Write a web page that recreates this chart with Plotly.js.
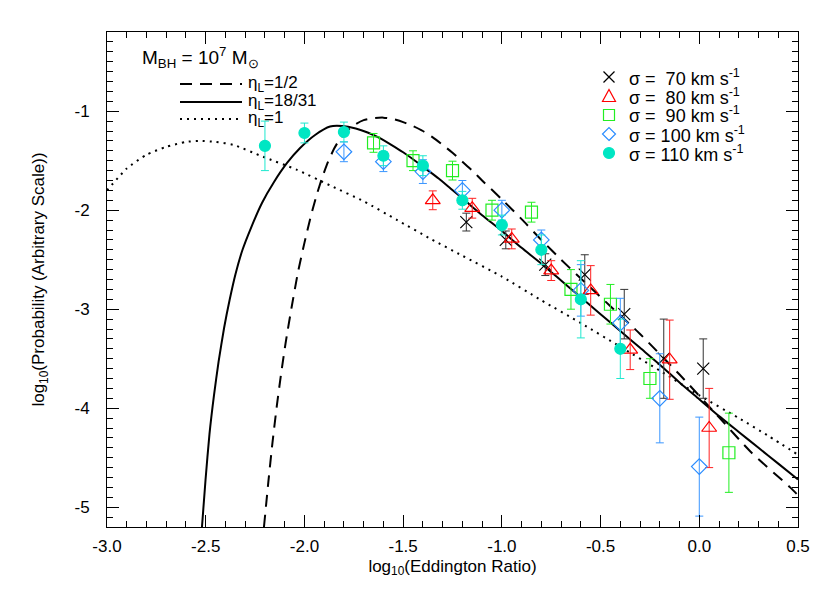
<!DOCTYPE html>
<html><head><meta charset="utf-8">
<script src="https://cdn.plot.ly/plotly-3.0.1.min.js"></script>
<style>html,body{margin:0;padding:0;background:#fff}#plot{width:830px;height:593px}</style>
</head><body><div id="plot"></div>
<script>
// ---- tick labels ----
const xTickVals = [-3.0, -2.5, -2.0, -1.5, -1.0, -0.5, 0.0, 0.5];
const xTickText = ['-3.0', '-2.5', '-2.0', '-1.5', '-1.0', '-0.5', '0.0', '0.5'];
const yTickVals = [-5, -4, -3, -2, -1];
const yTickText = ['-5', '-4', '-3', '-2', '-1'];

// ---- model curves ----
const halfX = [-2.205, -2.183, -2.162, -2.140, -2.118, -2.096, -2.064, -2.032, -2.00, -1.97, -1.94, -1.91, -1.88, -1.85, -1.82, -1.78, -1.74, -1.70, -1.65, -1.60, -1.55, -1.50, -1.45, -1.40, -1.35, -1.30, -1.25, -1.20, -1.15, -1.10, -1.00, -0.90, -0.80, -0.70, -0.60, -0.45, -0.30, -0.10, 0.09, 0.26, 0.46, 0.50];
const halfY = [-5.20, -4.75, -4.35, -3.98, -3.65, -3.35, -2.97, -2.62, -2.33, -2.08, -1.86, -1.67, -1.51, -1.38, -1.28, -1.19, -1.13, -1.09, -1.07, -1.065, -1.08, -1.11, -1.15, -1.20, -1.265, -1.34, -1.42, -1.51, -1.60, -1.70, -1.89, -2.09, -2.30, -2.50, -2.69, -2.97, -3.25, -3.66, -4.07, -4.44, -4.80, -4.88];

const mid1831X = [-2.519, -2.501, -2.481, -2.458, -2.435, -2.407, -2.379, -2.349, -2.314, -2.271, -2.215, -2.154, -2.088, -2.022, -1.946, -1.870, -1.81, -1.74, -1.68, -1.62, -1.56, -1.50, -1.44, -1.38, -1.32, -1.26, -1.20, -1.10, -1.00, -0.90, -0.80, -0.70, -0.60, -0.50, -0.40, -0.30, -0.20, -0.10, 0.00, 0.10, 0.20, 0.30, 0.40, 0.50];
const mid1831Y = [-5.20, -4.725, -4.261, -3.867, -3.533, -3.190, -2.907, -2.644, -2.402, -2.180, -1.927, -1.715, -1.523, -1.372, -1.240, -1.155, -1.15, -1.175, -1.215, -1.27, -1.34, -1.415, -1.50, -1.59, -1.68, -1.78, -1.88, -2.05, -2.21, -2.38, -2.54, -2.71, -2.88, -3.05, -3.22, -3.39, -3.56, -3.74, -3.91, -4.08, -4.24, -4.40, -4.56, -4.72];

const oneX = [-3.00, -2.90, -2.80, -2.70, -2.60, -2.53, -2.45, -2.36, -2.21, -2.04, -1.87, -1.70, -1.53, -1.36, -1.20, -1.00, -0.80, -0.60, -0.40, -0.20, 0.00, 0.20, 0.35, 0.50];
const oneY = [-1.80, -1.58, -1.44, -1.36, -1.31, -1.30, -1.31, -1.34, -1.46, -1.59, -1.75, -1.91, -2.10, -2.29, -2.46, -2.67, -2.91, -3.14, -3.38, -3.62, -3.87, -4.10, -4.28, -4.47];

// ---- data points ----
const s70X = [-1.18, -0.98, -0.78, -0.58, -0.38, -0.18, 0.02];
const s70Y = [-2.12, -2.30, -2.55, -2.65, -3.05, -3.50, -3.60];
const s70E = [0.09, 0.09, 0.11, 0.20, 0.25, 0.40, 0.30];

const s80X = [-1.35, -1.15, -0.95, -0.75, -0.55, -0.35, -0.15, 0.05];
const s80Y = [-1.90, -1.98, -2.29, -2.61, -2.81, -3.41, -3.51, -4.20];
const s80E = [0.095, 0.10, 0.10, 0.10, 0.25, 0.20, 0.40, 0.40];

const s90X = [-1.65, -1.45, -1.25, -1.05, -0.85, -0.65, -0.45, -0.25, 0.15];
const s90Y = [-1.32, -1.50, -1.60, -2.00, -2.02, -2.80, -2.95, -3.70, -4.45];
const s90E = [0.095, 0.10, 0.095, 0.10, 0.10, 0.20, 0.20, 0.20, 0.40];

const s100X = [-1.8, -1.6, -1.4, -1.2, -1.0, -0.8, -0.6, -0.4, -0.2, 0.0];
const s100Y = [-1.41, -1.51, -1.61, -1.80, -2.00, -2.30, -2.81, -3.14, -3.90, -4.59];
const s100E = [0.10, 0.10, 0.12, 0.10, 0.10, 0.10, 0.26, 0.25, 0.45, 0.50];

const s110X = [-2.2, -2.0, -1.8, -1.6, -1.4, -1.2, -1.0, -0.8, -0.6, -0.4];
const s110Y = [-1.35, -1.22, -1.21, -1.45, -1.55, -1.90, -2.15, -2.40, -2.90, -3.40];
const s110E = [0.25, 0.10, 0.10, 0.10, 0.10, 0.09, 0.10, 0.15, 0.39, 0.30];

// ---- legend texts ----
const seriesNames = ['σ = \u00a070 km s<sup>-1</sup>', 'σ = \u00a080 km s<sup>-1</sup>', 'σ = \u00a090 km s<sup>-1</sup>', 'σ = 100 km s<sup>-1</sup>', 'σ = 110 km s<sup>-1</sup>'];
const curveNames = ['η<sub>L</sub>=1/2', 'η<sub>L</sub>=18/31', 'η<sub>L</sub>=1'];
const massLabel = 'M<sub>BH</sub> = 10<sup>7</sup> M<sub>⊙</sub>';

const colors = ['#000000', '#ff0000', '#22ee22', '#2a8cff', '#00e6c3'];
const barColors = ['#333333', '#ff2020', '#22ee22', '#3a96ff', '#1ee8cf'];

function curve(x, y, dash, w, name) {
  return {x: x, y: y, type: 'scatter', mode: 'lines', name: name, showlegend: false, hoverinfo: 'skip',
    line: {color: '#000', width: w, dash: dash, shape: 'spline', smoothing: 0.6}};
}
function pts(x, y, e, name, symbol, color, barColor, size) {
  return {x: x, y: y, type: 'scatter', mode: 'markers', name: name, showlegend: false,
    error_y: {type: 'data', array: e, visible: true, color: barColor, thickness: 1, width: 4},
    marker: {symbol: symbol, size: size, color: color, line: {color: color, width: 1.2}}};
}

const data = [
  curve(halfX, halfY, '12px,8px', 2, curveNames[0]),
  curve(mid1831X, mid1831Y, 'solid', 2, curveNames[1]),
  curve(oneX, oneY, '2px,5px', 2, curveNames[2]),
  pts(s70X, s70Y, s70E, seriesNames[0], 'x-thin-open', colors[0], barColors[0], 12),
  pts(s80X, s80Y, s80E, seriesNames[1], 'triangle-up-open', colors[1], barColors[1], 13),
  pts(s90X, s90Y, s90E, seriesNames[2], 'square-open', colors[2], barColors[2], 12),
  pts(s100X, s100Y, s100E, seriesNames[3], 'diamond-open', colors[3], barColors[3], 12),
  pts(s110X, s110Y, s110E, seriesNames[4], 'circle', colors[4], barColors[4], 11)
];

const fnt = {family: 'Liberation Sans, Arial, sans-serif', color: '#000'};
const L = 107, R = 798, T = 32, B = 527;
const px = v => (v - L) / (R - L);
const py = v => (B - v) / (B - T);

// legend decorations (positions in pixels)
const shapes = [];
const annotations = [];
const lineRows = [84, 102, 119];
const lineDash = ['12px,8px', 'solid', '2px,5px'];
lineRows.forEach((yy, i) => {
  shapes.push({type: 'line', xref: 'paper', yref: 'paper', x0: px(180), x1: px(242), y0: py(yy), y1: py(yy),
    line: {color: '#000', width: 2, dash: lineDash[i]}});
  annotations.push({xref: 'paper', yref: 'paper', x: px(246), y: py(yy), xanchor: 'left', yanchor: 'middle',
    showarrow: false, text: curveNames[i], font: Object.assign({size: 17}, fnt)});
});
annotations.push({xref: 'paper', yref: 'paper', x: px(140), y: py(57), xanchor: 'left', yanchor: 'middle',
  showarrow: false, text: massLabel, font: Object.assign({size: 19}, fnt)});

const symRows = [77, 96, 115, 134, 153];
const symX = px(609);
function pshape(i, extra) {
  return Object.assign({xref: 'paper', yref: 'paper', xsizemode: 'pixel', ysizemode: 'pixel',
    xanchor: symX, yanchor: py(symRows[i]), line: {color: colors[i], width: 1.2}}, extra);
}
shapes.push(pshape(0, {type: 'line', x0: -5.5, x1: 5.5, y0: -5.5, y1: 5.5}));
shapes.push(pshape(0, {type: 'line', x0: -5.5, x1: 5.5, y0: 5.5, y1: -5.5}));
shapes.push(pshape(1, {type: 'path', path: 'M-6.5,-5.5L6.5,-5.5L0,6.5Z'}));
shapes.push(pshape(2, {type: 'rect', x0: -5.5, x1: 5.5, y0: -5.5, y1: 5.5}));
shapes.push(pshape(3, {type: 'path', path: 'M0,-6.5L6.5,0L0,6.5L-6.5,0Z'}));
shapes.push(pshape(4, {type: 'circle', x0: -5.5, x1: 5.5, y0: -5.5, y1: 5.5, fillcolor: colors[4]}));
symRows.forEach((yy, i) => {
  annotations.push({xref: 'paper', yref: 'paper', x: px(627), y: py(yy), xanchor: 'left', yanchor: 'middle',
    showarrow: false, text: seriesNames[i], font: Object.assign({size: 18}, fnt)});
});

const layout = {
  width: 830, height: 593,
  margin: {l: L, r: 830 - R, t: T, b: 593 - B},
  paper_bgcolor: '#fff', plot_bgcolor: '#fff',
  font: Object.assign({size: 16}, fnt),
  showlegend: false,
  xaxis: {range: [-3.0, 0.5], tickvals: xTickVals, ticktext: xTickText, ticks: 'inside', ticklen: 12,
    tickcolor: '#000', showline: true, linecolor: '#000', linewidth: 1, mirror: 'ticks', showgrid: false,
    zeroline: false, tickfont: Object.assign({size: 17}, fnt), ticklabelstandoff: 4,
    minor: {dtick: 0.1, ticklen: 6, ticks: 'inside', tickcolor: '#000', showgrid: false},
    title: {text: 'log<sub>10</sub>(Eddington Ratio)', font: Object.assign({size: 17}, fnt), standoff: 4}},
  yaxis: {range: [-5.2, -0.2], tickvals: yTickVals, ticktext: yTickText, ticks: 'inside', ticklen: 12,
    tickcolor: '#000', showline: true, linecolor: '#000', linewidth: 1, mirror: 'ticks', showgrid: false,
    zeroline: false, tickfont: Object.assign({size: 17}, fnt), ticklabelstandoff: 13,
    minor: {dtick: 0.1, ticklen: 6, ticks: 'inside', tickcolor: '#000', showgrid: false},
    title: {text: 'log<sub>10</sub>(Probability (Arbitrary Scale))', font: Object.assign({size: 17}, fnt), standoff: 25}},
  shapes: shapes,
  annotations: annotations
};

Plotly.newPlot('plot', data, layout, {staticPlot: true, displayModeBar: false});
</script>
</body></html>
